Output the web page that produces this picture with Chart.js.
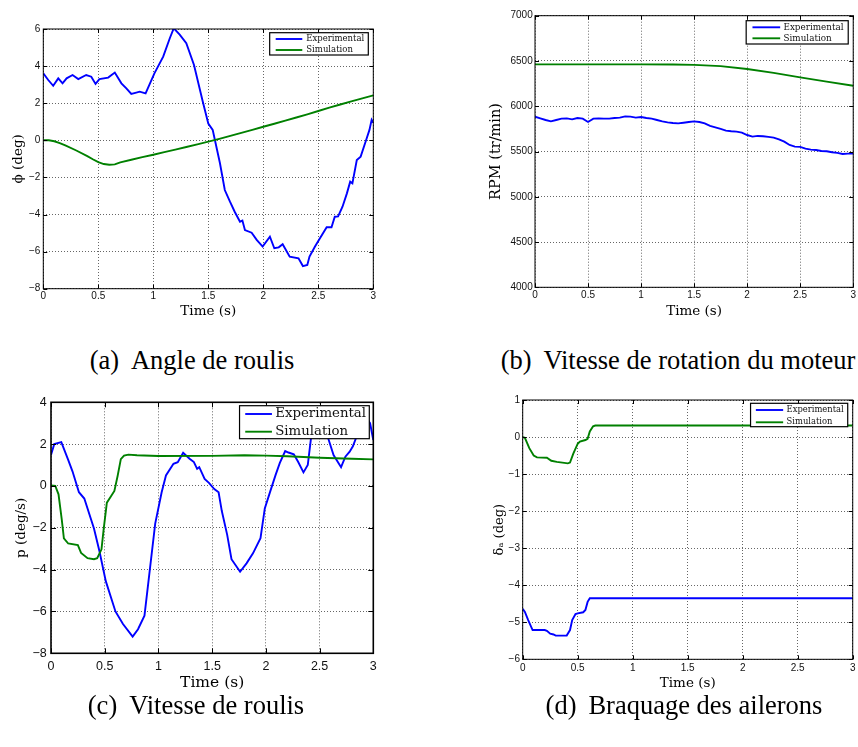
<!DOCTYPE html>
<html><head><meta charset="utf-8">
<script src="https://cdn.jsdelivr.net/npm/chart.js@4.4.0/dist/chart.umd.min.js"></script>
<style>
html,body{margin:0;padding:0;background:#fff;width:858px;height:747px;overflow:hidden;position:relative;}
canvas{position:absolute;}
.cap{position:absolute;width:420px;text-align:center;font-family:'Liberation Serif',serif;font-size:26.5px;color:#000;white-space:nowrap;line-height:26px;}
.cap span{margin-right:0.45em;}
</style></head><body>
<canvas id="cA" width="400" height="340" style="left:0px;top:0px"></canvas>
<canvas id="cB" width="418" height="340" style="left:440px;top:0px"></canvas>
<canvas id="cC" width="400" height="310" style="left:0px;top:390px"></canvas>
<canvas id="cD" width="418" height="310" style="left:440px;top:390px"></canvas>
<div class="cap" style="left:-18px;top:347px"><span>(a)</span>Angle de roulis</div>
<div class="cap" style="left:468px;top:347px"><span>(b)</span>Vitesse de rotation du moteur</div>
<div class="cap" style="left:-14px;top:692px"><span>(c)</span>Vitesse de roulis</div>
<div class="cap" style="left:474px;top:692px"><span>(d)</span>Braquage des ailerons</div>
<script>
// ---------- data ----------
const seriesNames = ['Experimental', 'Simulation'];
const seriesColors = ['#0000ff', '#008000'];
const timeTicks = [0, 0.5, 1, 1.5, 2, 2.5, 3];
const rollTicks = [-8, -6, -4, -2, 0, 2, 4, 6];
const rpmTicks = [4000, 4500, 5000, 5500, 6000, 6500, 7000];
const rateTicks = [-8, -6, -4, -2, 0, 2, 4];
const aileronTicks = [-6, -5, -4, -3, -2, -1, 0, 1];
const xTitle = 'Time (s)';
const yTitles = ['\u03D5 (deg)', 'RPM (tr/min)', 'p (deg/s)', '\u03B4\u2090 (deg)'];

// (a) roll angle
const rollExpTime = [0,0.045,0.09,0.136,0.175,0.212,0.266,0.318,0.39,0.436,0.475,0.51,0.59,0.65,0.71,0.755,0.8,0.845,0.876,0.93,1.01,1.09,1.15,1.186,1.24,1.3,1.37,1.45,1.5,1.54,1.56,1.606,1.65,1.697,1.74,1.788,1.81,1.833,1.894,1.94,1.994,2.06,2.1,2.14,2.176,2.24,2.32,2.36,2.4,2.42,2.47,2.515,2.576,2.62,2.65,2.68,2.72,2.76,2.79,2.81,2.85,2.885,2.935,2.965,2.985,3.0];
const rollExpVal = [3.61,3.25,2.94,3.34,3.07,3.34,3.52,3.3,3.52,3.43,3.04,3.3,3.38,3.65,3.07,2.8,2.5,2.57,2.62,2.53,3.61,4.51,5.5,6.04,5.7,5.23,4.06,2.08,0.9,0.56,0.02,-1.24,-2.68,-3.31,-3.85,-4.39,-4.33,-4.84,-4.98,-5.37,-5.73,-5.2,-5.82,-5.77,-5.6,-6.27,-6.36,-6.78,-6.72,-6.27,-5.73,-5.28,-4.69,-4.69,-4.12,-4.1,-3.58,-2.86,-2.23,-2.32,-1.06,-0.88,0.02,0.56,1.1,0.95];
const rollSimTime = [0,0.05,0.1,0.15,0.2,0.3,0.4,0.45,0.5,0.55,0.6,0.65,0.7,0.8,0.9,1.0,1.1,1.2,1.3,1.4,1.5,1.6,1.7,1.8,1.9,2.0,2.1,2.2,2.3,2.4,2.5,2.6,2.7,2.8,2.9,3.0];
const rollSimVal = [0,0,-0.05,-0.15,-0.28,-0.55,-0.85,-1.02,-1.18,-1.28,-1.32,-1.3,-1.19,-1.05,-0.91,-0.78,-0.64,-0.5,-0.36,-0.22,-0.07,0.08,0.24,0.4,0.56,0.73,0.89,1.06,1.23,1.4,1.58,1.76,1.93,2.1,2.26,2.42];

// (b) motor speed
const rpmExpTime = [0,0.05,0.1,0.15,0.2,0.25,0.3,0.35,0.4,0.45,0.5,0.55,0.6,0.65,0.7,0.75,0.8,0.85,0.9,0.95,1.0,1.05,1.1,1.15,1.2,1.25,1.3,1.35,1.4,1.45,1.5,1.55,1.6,1.65,1.7,1.75,1.8,1.85,1.9,1.95,2.0,2.05,2.1,2.15,2.2,2.25,2.3,2.35,2.4,2.45,2.5,2.55,2.6,2.65,2.7,2.75,2.8,2.85,2.9,2.95,3.0];
const rpmExpVal = [5885,5866,5848,5833,5848,5863,5866,5855,5870,5863,5826,5863,5866,5863,5863,5870,5874,5888,5885,5874,5881,5870,5863,5848,5833,5822,5815,5811,5818,5826,5833,5826,5811,5782,5767,5749,5730,5723,5719,5708,5682,5664,5672,5668,5661,5653,5635,5609,5572,5554,5551,5532,5521,5517,5506,5503,5492,5485,5473,5477,5477];
const rpmSimTime = [0,0.5,1.0,1.3,1.5,1.75,2.0,2.25,2.5,2.75,3.0];
const rpmSimVal = [6462,6462,6462,6461,6457,6443,6411,6368,6319,6272,6226];

// (c) roll rate
const rateExpTime = [0,0.03,0.096,0.16,0.2,0.26,0.31,0.4,0.45,0.51,0.6,0.67,0.76,0.81,0.87,0.92,0.97,1.03,1.07,1.14,1.18,1.23,1.29,1.33,1.36,1.38,1.43,1.47,1.52,1.56,1.59,1.64,1.68,1.76,1.82,1.88,1.95,1.99,2.04,2.09,2.13,2.18,2.21,2.26,2.3,2.35,2.39,2.42,2.47,2.52,2.58,2.63,2.7,2.74,2.78,2.81,2.85,2.9,2.94,2.97,3.0];
const rateExpVal = [1.48,2.0,2.1,1.25,0.7,-0.3,-0.6,-2.03,-3.1,-4.55,-6.0,-6.6,-7.2,-6.85,-6.2,-4.0,-1.8,-0.3,0.5,1.06,1.14,1.59,1.3,1.14,0.82,0.9,0.34,0.15,-0.15,-0.3,-1.2,-2.34,-3.5,-4.1,-3.7,-3.22,-2.5,-1.07,-0.27,0.52,1.1,1.67,1.6,1.51,1.16,0.65,1.0,2.28,3.3,3.2,2.28,1.48,0.9,1.4,1.64,1.9,2.44,3.1,3.2,3.0,2.2];
const rateSimTime = [0,0.04,0.07,0.1,0.12,0.16,0.25,0.28,0.34,0.4,0.43,0.47,0.49,0.52,0.56,0.59,0.62,0.65,0.68,0.72,0.8,1.0,1.5,1.8,2.0,2.2,2.5,2.8,3.0];
const rateSimVal = [0.02,0,-0.4,-1.6,-2.5,-2.75,-2.83,-3.2,-3.45,-3.5,-3.45,-3.03,-2.08,-0.8,-0.48,-0.24,0.48,1.28,1.45,1.5,1.47,1.43,1.44,1.47,1.45,1.42,1.35,1.3,1.27];

// (d) aileron deflection
const aileronExpTime = [0,0.02,0.05,0.09,0.2,0.22,0.25,0.28,0.3,0.4,0.43,0.45,0.48,0.5,0.55,0.57,0.59,0.61,3.0];
const aileronExpVal = [-4.64,-4.72,-4.94,-5.21,-5.21,-5.23,-5.31,-5.33,-5.36,-5.36,-5.21,-4.94,-4.78,-4.76,-4.73,-4.67,-4.45,-4.35,-4.35];
const aileronSimTime = [0,0.02,0.06,0.1,0.13,0.22,0.26,0.31,0.41,0.43,0.46,0.5,0.52,0.57,0.59,0.61,0.64,0.66,3.0];
const aileronSimVal = [0,-0.02,-0.3,-0.5,-0.55,-0.56,-0.64,-0.67,-0.71,-0.69,-0.45,-0.18,-0.12,-0.08,-0.05,0.15,0.29,0.31,0.31];

// ---------- drawing ----------
function pts(t, v) { return t.map((x, i) => ({x: x, y: v[i]})); }
function fmt(v) { return String(v).replace('-', '\u2212'); }

const frameLegend = {
  id: 'frameLegend',
  afterDatasetsDraw(chart, args, o) {
    const ctx = chart.ctx, a = chart.chartArea, sx = chart.scales.x, sy = chart.scales.y;
    ctx.save();
    ctx.strokeStyle = '#000';
    ctx.lineWidth = 1;
    ctx.beginPath();
    sx.ticks.forEach(t => {
      const p = Math.round(sx.getPixelForValue(t.value)) + 0.5;
      ctx.moveTo(p, a.bottom); ctx.lineTo(p, a.bottom - o.tickLen);
      ctx.moveTo(p, a.top); ctx.lineTo(p, a.top + o.tickLen);
    });
    sy.ticks.forEach(t => {
      const p = Math.round(sy.getPixelForValue(t.value)) + 0.5;
      ctx.moveTo(a.left, p); ctx.lineTo(a.left + o.tickLen, p);
      ctx.moveTo(a.right, p); ctx.lineTo(a.right - o.tickLen, p);
    });
    ctx.stroke();
    ctx.lineWidth = o.frameWidth;
    ctx.strokeRect(a.left, a.top, a.right - a.left, a.bottom - a.top);
    // legend box
    ctx.font = o.size + 'px "DejaVu Serif"';
    const ds = chart.data.datasets;
    const tw = Math.max.apply(null, ds.map(d => ctx.measureText(d.label).width));
    const w = o.textX + tw + o.padRight;
    const x0 = a.right - o.offRight - w, y0 = a.top + o.offTop;
    ctx.fillStyle = '#fff';
    ctx.fillRect(x0, y0, w, o.height);
    ctx.strokeStyle = '#000';
    ctx.lineWidth = 1.2;
    ctx.strokeRect(x0, y0, w, o.height);
    ds.forEach((d, i) => {
      const yy = y0 + o.firstRow + i * o.rowH;
      ctx.strokeStyle = d.borderColor;
      ctx.lineWidth = d.borderWidth;
      ctx.beginPath();
      ctx.moveTo(x0 + o.lineX, yy); ctx.lineTo(x0 + o.lineX + o.lineLen, yy);
      ctx.stroke();
      ctx.fillStyle = '#111';
      ctx.textBaseline = 'middle';
      ctx.textAlign = 'left';
      ctx.fillText(d.label, x0 + o.textX, yy);
    });
    ctx.restore();
  }
};

function makeChart(id, o) {
  const grid = {color: 'rgba(0,0,0,0.6)', lineWidth: 1, drawTicks: false};
  const border = {display: false, dash: [1, 2]};
  return new Chart(document.getElementById(id), {
    type: 'line',
    data: {datasets: o.series.map((s, i) => ({
      label: seriesNames[i], data: pts(s[0], s[1]),
      borderColor: seriesColors[i], backgroundColor: seriesColors[i],
      borderWidth: o.lw, pointRadius: 0, tension: 0, fill: false, order: 1 - i
    }))},
    options: {
      responsive: false, animation: false, devicePixelRatio: 1,
      layout: {padding: o.pad},
      plugins: {legend: {display: false}, tooltip: {enabled: false}, frameLegend: o.legend},
      scales: {
        x: {
          type: 'linear', min: timeTicks[0], max: timeTicks[timeTicks.length - 1],
          afterBuildTicks: s => { s.ticks = timeTicks.map(v => ({value: v})); },
          afterFit: s => { s.height = o.xh; },
          grid: grid, border: border,
          ticks: {font: {family: 'Liberation Sans', size: o.tick}, color: '#111', padding: o.xPad, maxRotation: 0, minRotation: 0, autoSkip: false, callback: v => fmt(v)},
          title: {display: true, text: xTitle, color: '#000', font: {family: 'DejaVu Serif', size: o.xt, lineHeight: 1.2}, padding: {top: 0, bottom: o.xtPad}}
        },
        y: {
          type: 'linear', min: o.yTicks[0], max: o.yTicks[o.yTicks.length - 1],
          afterBuildTicks: s => { s.ticks = o.yTicks.map(v => ({value: v})); },
          afterFit: s => { s.width = o.yw; },
          grid: grid, border: border,
          ticks: {font: {family: 'Liberation Sans', size: o.tick}, color: '#111', padding: o.yPad, autoSkip: false, callback: v => fmt(v)},
          title: {display: true, text: o.yTitle, color: '#000', font: {family: 'DejaVu Serif', size: o.yt, lineHeight: 1.2}, padding: {top: o.ytPad, bottom: 0}}
        }
      }
    },
    plugins: [frameLegend]
  });
}

makeChart('cA', {
  series: [[rollExpTime, rollExpVal], [rollSimTime, rollSimVal]], yTicks: rollTicks, yTitle: yTitles[0],
  pad: {top: 29, right: 26.7, left: 0, bottom: 0}, yw: 43.3, xh: 51.3,
  tick: 10, xPad: 2, yPad: 3, xt: 13.5, xtPad: 20.2, yt: 13.5, ytPad: 9.9, lw: 1.9,
  legend: {size: 8.5, textX: 36.6, padRight: 4, offRight: 5, offTop: 3.7, height: 22.3, firstRow: 6.3, rowH: 11, lineX: 6, lineLen: 26.6, tickLen: 4, frameWidth: 1}
});
makeChart('cB', {
  series: [[rpmExpTime, rpmExpVal], [rpmSimTime, rpmSimVal]], yTicks: rpmTicks, yTitle: yTitles[1],
  pad: {top: 15.7, right: 4.7, left: 0, bottom: 0}, yw: 95, xh: 52.7,
  tick: 10, xPad: 2, yPad: 2.3, xt: 13.5, xtPad: 20.2, yt: 14.5, ytPad: 48, lw: 1.9,
  legend: {size: 8.8, textX: 37.3, padRight: 4.7, offRight: 5, offTop: 5, height: 23.3, firstRow: 6.6, rowH: 11, lineX: 6.3, lineLen: 27.7, tickLen: 4, frameWidth: 1}
});
makeChart('cC', {
  series: [[rateExpTime, rateExpVal], [rateSimTime, rateSimVal]], yTicks: rateTicks, yTitle: yTitles[2],
  pad: {top: 12.3, right: 26.7, left: 0, bottom: 0}, yw: 51, xh: 46.7,
  tick: 12.5, xPad: 6, yPad: 4.3, xt: 15.5, xtPad: 7.7, yt: 13.5, ytPad: 13.6, lw: 1.9,
  legend: {size: 13.3, textX: 35.7, padRight: 3.3, offRight: 4, offTop: 3.4, height: 33, firstRow: 8.3, rowH: 17.7, lineX: 5.7, lineLen: 26.7, tickLen: 5, frameWidth: 1.6}
});
makeChart('cD', {
  series: [[aileronExpTime, aileronExpVal], [aileronSimTime, aileronSimVal]], yTicks: aileronTicks, yTitle: yTitles[3],
  pad: {top: 10, right: 4.7, left: 0, bottom: 0}, yw: 82.7, xh: 40.7,
  tick: 10, xPad: 2.5, yPad: 2.7, xt: 13.5, xtPad: 8.6, yt: 13, ytPad: 52, lw: 1.9,
  legend: {size: 8.4, textX: 36, padRight: 4, offRight: 5, offTop: 3.3, height: 23.4, firstRow: 6.7, rowH: 12.3, lineX: 5.3, lineLen: 27.3, tickLen: 4, frameWidth: 1}
});
</script>
</body></html>
